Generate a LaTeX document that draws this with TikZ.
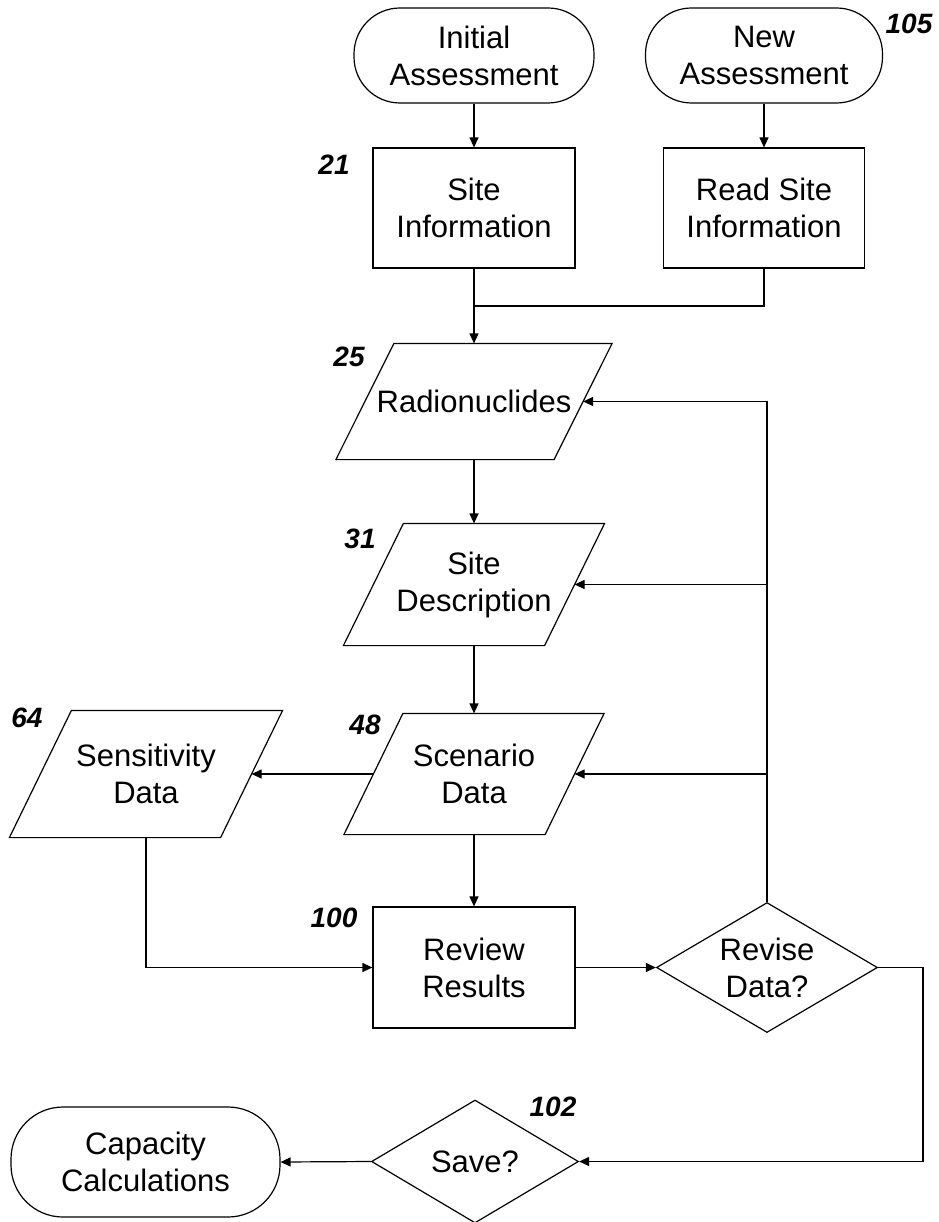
\documentclass[tikz,border=0pt]{standalone}
\usepackage{fontspec}
\setmainfont{Liberation Sans}
\usetikzlibrary{shapes.geometric,arrows.meta}
\newcommand\paral[2]{\draw ([xshift=#2]#1.north west) -- ([xshift=#2]#1.north east) -- ([xshift=-#2]#1.south east) -- ([xshift=-#2]#1.south west) -- cycle;}
\begin{document}
\begin{tikzpicture}[x=1pt,y=-1pt,
  line width=1.2pt,
  every node/.style={font=\fontsize{31}{37}\selectfont, align=center},
  term/.style={draw, rectangle, rounded corners=46pt, inner sep=0pt},
  boxnode/.style={draw, rectangle, inner sep=0pt},
  paranode/.style={rectangle, inner sep=0pt},
  dec/.style={draw, diamond, aspect=1.7, inner sep=0pt},
  num/.style={font=\fontsize{28}{30}\selectfont\bfseries\itshape},
  arr/.style={-{Triangle[length=10pt,width=9pt]}}
]
\useasboundingbox (0,0) rectangle (938,1222);

\node[term, minimum width=240pt, minimum height=95pt] (init) at (474,55.5) {Initial\\Assessment};
\node[term, minimum width=237pt, minimum height=95pt] (new) at (764,55.5) {New\\Assessment};
\node[boxnode, minimum width=202pt, minimum height=120pt] (site) at (474,208) {Site\\Information};
\node[boxnode, minimum width=201pt, minimum height=120pt] (read) at (764,208) {Read Site\\Information};
\node[paranode, minimum width=217pt, minimum height=115pt] (rad) at (474,401.5) {Radionuclides};
\node[paranode, minimum width=200pt, minimum height=121pt] (desc) at (474,584.5) {Site\\Description};
\node[paranode, minimum width=200pt, minimum height=120pt] (scen) at (474,774) {Scenario\\Data};
\node[paranode, minimum width=210pt, minimum height=126pt] (sens) at (146,774) {Sensitivity\\Data};
\node[boxnode, minimum width=202pt, minimum height=121pt] (rev) at (474,967.5) {Review\\Results};
\node[dec, minimum width=221pt, minimum height=130pt] (revise) at (767,967.5) {Revise\\Data?};
\node[dec, minimum width=207pt, minimum height=123pt] (save) at (475,1161.5) {Save?};
\node[term, rounded corners=52pt, minimum width=269pt, minimum height=110pt] (cap) at (145.5,1162) {Capacity\\Calculations};

\paral{rad}{29pt}
\paral{desc}{30pt}
\paral{scen}{29.5pt}
\paral{sens}{31pt}

\node[num] (n105) at (909,24) {105};
\node[num] (n21) at (334,165) {21};
\node[num] (n25) at (349,357) {25};
\node[num] (n31) at (360,539) {31};
\node[num] (n48) at (365,725) {48};
\node[num] (n64) at (27,718) {64};
\node[num] (n100) at (334,918) {100};
\node[num] (n102) at (553,1107) {102};

\coordinate (m) at (474,306);
\coordinate (rt) at (923,967.5);
\draw[arr] (init.south) -- (site.north);
\draw[arr] (new.south) -- (read.north);
\draw[arr] (site.south) -- (rad.north);
\draw (read.south) |- (m);
\draw[arr] (rad.south) -- (desc.north);
\draw[arr] (desc.south) -- (scen.north);
\draw[arr] (scen.south) -- (rev.north);
\draw[arr] (scen.west) -- (sens.east);
\draw[arr] (sens.south) |- (rev.west);
\draw[arr] (rev.east) -- (revise.west);
\draw[arr] (revise.north) |- (rad.east);
\draw[arr] (revise.north |- desc.east) -- (desc.east);
\draw[arr] (revise.north |- scen.east) -- (scen.east);
\draw[arr] (revise.east) -- (rt) |- (save.east);
\draw[arr] (save.west) -- (cap.east);
\end{tikzpicture}
\end{document}
